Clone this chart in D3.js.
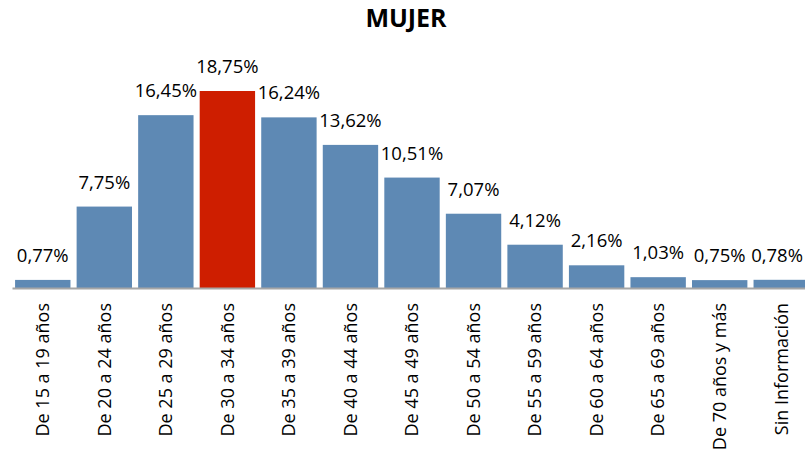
<!DOCTYPE html>
<html><head><meta charset="utf-8">
<script src="https://cdn.jsdelivr.net/npm/d3@7"></script>
<style>body{margin:0;background:#fff}svg{display:block}</style>
</head><body>
<script>
const categories = ["De 15 a 19 años","De 20 a 24 años","De 25 a 29 años","De 30 a 34 años","De 35 a 39 años","De 40 a 44 años","De 45 a 49 años","De 50 a 54 años","De 55 a 59 años","De 60 a 64 años","De 65 a 69 años","De 70 años y más","Sin Información"];
const values = [0.77,7.75,16.45,18.75,16.24,13.62,10.51,7.07,4.12,2.16,1.03,0.75,0.78];
const highlight = "De 30 a 34 años";
const title = "MUJER";

const W = 805, H = 452;
const svg = d3.select("body").append("svg").attr("width", W).attr("height", H);
const font = "'Open Sans', sans-serif";

const x = d3.scaleBand().domain(categories).range([12, 812]).paddingInner(0.1).paddingOuter(0.05);
const y = d3.scaleLinear().domain([0, 18.75]).range([288, 91]);

svg.append("text").attr("x", 406).attr("y", 27).attr("text-anchor", "middle")
  .style("font-family", font).style("font-weight", "bold").style("font-size", "25px")
  .text(title);

svg.selectAll("rect.bar").data(values).join("rect").attr("class","bar")
  .attr("x", (d,i) => x(categories[i]))
  .attr("width", x.bandwidth())
  .attr("y", d => y(d))
  .attr("height", d => y(0) - y(d))
  .attr("fill", (d,i) => categories[i] === highlight ? "#CE1E00" : "#5E89B4");

svg.selectAll("text.lbl").data(values).join("text").attr("class","lbl")
  .attr("y", d => y(d) - 18)
  .attr("text-anchor", "middle")
  .style("font-family", font).style("font-size", "18.5px").attr("fill", "#000")
  .text(d => d.toFixed(2).replace(".", ",") + "%")
  .attr("x", function(d,i) {
    const c = x(categories[i]) + x.bandwidth()/2;
    const hw = this.getComputedTextLength()/2;
    return Math.min(c, W - 2 - hw);
  });

const axis = d3.axisBottom(x).tickSize(0).tickPadding(0);
const g = svg.append("g").attr("transform", "translate(0,288)").call(axis);
g.select(".domain").attr("stroke", "#A6A6A6").attr("stroke-width", 2);
g.selectAll(".tick text")
  .style("font-family", font).style("font-size", "18px").attr("fill", "#000")
  .attr("text-anchor", "end")
  .attr("transform", "rotate(-90)")
  .attr("x", -15).attr("y", 0).attr("dy", "0.35em");
</script>
</body></html>
